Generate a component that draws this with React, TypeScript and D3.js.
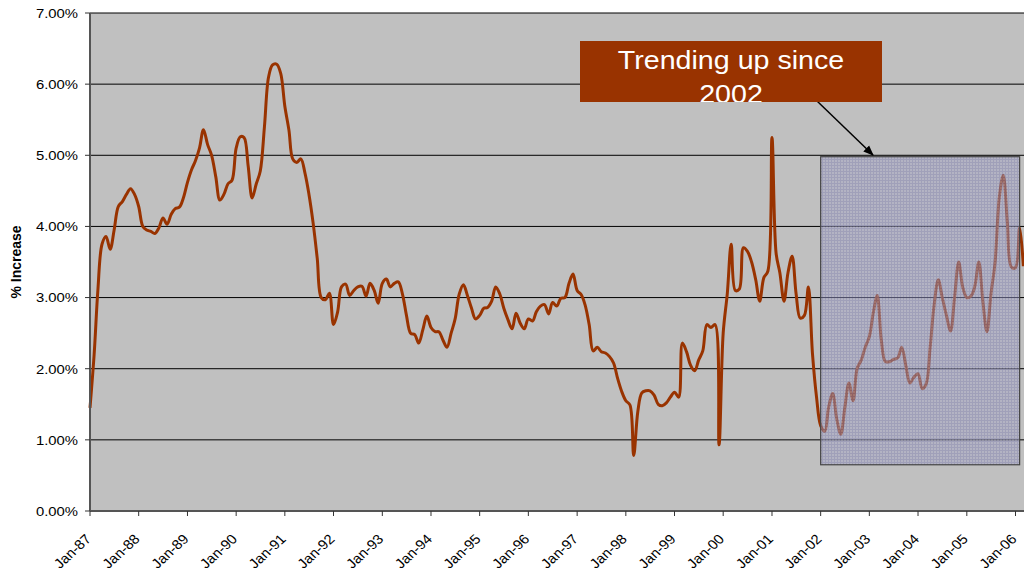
import React, { useEffect, useRef } from "react";
import * as d3 from "d3";

// monthly % increase, Jan-87 .. Mar-06
const v1987 = [1.45, 2.2, 3.1, 3.75, 3.86, 3.68, 3.95, 4.28, 4.35, 4.45, 4.53, 4.45];
const v1988 = [4.28, 4.0, 3.95, 3.93, 3.9, 3.98, 4.12, 4.03, 4.17, 4.25, 4.27, 4.4];
const v1989 = [4.62, 4.8, 4.92, 5.1, 5.36, 5.15, 5.0, 4.7, 4.37, 4.45, 4.6, 4.65];
const v1990 = [5.1, 5.26, 5.25, 4.85, 4.4, 4.6, 4.78, 5.4, 6.1, 6.27, 6.28, 6.15];
const v1991 = [5.69, 5.35, 4.95, 4.9, 4.95, 4.75, 4.45, 4.05, 3.55, 3.0, 2.97, 3.06];
const v1992 = [2.62, 2.8, 3.15, 3.19, 3.03, 3.1, 3.15, 3.16, 3.02, 3.2, 3.1, 2.92];
const v1993 = [3.2, 3.26, 3.15, 3.2, 3.22, 3.05, 2.75, 2.5, 2.48, 2.36, 2.55, 2.74];
const v1994 = [2.58, 2.52, 2.52, 2.4, 2.3, 2.5, 2.7, 3.05, 3.18, 3.03, 2.85, 2.7];
const v1995 = [2.75, 2.85, 2.86, 2.95, 3.15, 3.05, 2.85, 2.69, 2.56, 2.78, 2.64, 2.56];
const v1996 = [2.7, 2.67, 2.8, 2.88, 2.9, 2.77, 2.93, 2.88, 2.99, 3.0, 3.2, 3.33];
const v1997 = [3.1, 3.04, 2.9, 2.62, 2.25, 2.3, 2.24, 2.22, 2.17, 2.08, 1.86, 1.68];
const v1998 = [1.55, 1.49, 0.78, 1.4, 1.66, 1.69, 1.69, 1.63, 1.5, 1.48, 1.52, 1.6];
const v1999 = [1.67, 1.6, 2.36, 2.24, 2.05, 1.97, 2.12, 2.25, 2.62, 2.58, 2.62, 0.93];
const v2000 = [2.5, 3.06, 3.75, 3.1, 3.12, 3.7, 3.65, 3.5, 3.25, 2.95, 3.28, 3.37];
const v2001 = [5.25, 3.62, 3.35, 2.95, 3.35, 3.58, 3.05, 2.71, 2.75, 3.15, 2.2, 1.6];
const v2002 = [1.2, 1.12, 1.45, 1.65, 1.3, 1.08, 1.45, 1.8, 1.55, 2.0, 2.12, 2.3];
const v2003 = [2.45, 2.8, 3.03, 2.4, 2.1, 2.1, 2.13, 2.15, 2.3, 2.05, 1.8, 1.88];
const v2004 = [1.93, 1.72, 1.78, 2.3, 2.9, 3.25, 3.0, 2.75, 2.53, 3.0, 3.5, 3.15];
const v2005 = [3.0, 3.02, 3.15, 3.5, 2.95, 2.52, 3.05, 3.5, 4.4, 4.72, 4.05, 3.43];
const v2006 = [3.42, 3.98, 3.44];

const allValues = [
  ...v1987, ...v1988, ...v1989, ...v1990, ...v1991, ...v1992, ...v1993,
  ...v1994, ...v1995, ...v1996, ...v1997, ...v1998, ...v1999, ...v2000,
  ...v2001, ...v2002, ...v2003, ...v2004, ...v2005, ...v2006,
];

const yTicks = [0, 1, 2, 3, 4, 5, 6, 7];
const tickYears = d3.range(1987, 2007);

// highlighted period
const boxStart = new Date(2002, 0, 1);
const boxEnd = new Date(2006, 1, 1);
const boxTop = 4.98;
const boxBottom = 0.65;

const noteText = ["Trending up since", "2002"];

const FONT = "'Liberation Sans', Arial, sans-serif";
const STRETCH = 1.1; // the original picture is a little wider than tall

const App: React.FC = () => {
  const svgRef = useRef<SVGSVGElement>(null);

  useEffect(() => {
    if (!svgRef.current) return;
    const svg = d3.select(svgRef.current);
    svg.selectAll("*").remove();

    const width = 1024;
    const left = 90;
    const top = 13;
    const bottom = 511;

    const x = d3
      .scaleTime()
      .domain([new Date(1987, 0, 1), new Date(2006, 0, 1)])
      .range([left, 1015.5]);
    const y = d3.scaleLinear().domain([0, 7]).range([bottom, top]);

    const data = allValues.map((v, i) => ({
      date: new Date(1987, i, 1),
      value: v,
    }));

    const defs = svg.append("defs");
    const pat = defs
      .append("pattern")
      .attr("id", "hatch")
      .attr("width", 3)
      .attr("height", 3)
      .attr("patternUnits", "userSpaceOnUse");
    pat.append("rect").attr("width", 3).attr("height", 3).attr("fill", "#a9a9c6");
    pat.append("path").attr("d", "M0,0.5H3M0.5,0V3").attr("stroke", "#8686b4").attr("stroke-width", 1);

    defs
      .append("clipPath")
      .attr("id", "noteClip")
      .append("rect")
      .attr("x", 580)
      .attr("y", 41)
      .attr("width", 302)
      .attr("height", 61);

    defs
      .append("marker")
      .attr("id", "arrow")
      .attr("viewBox", "0 0 10 10")
      .attr("refX", 9)
      .attr("refY", 5)
      .attr("markerWidth", 7)
      .attr("markerHeight", 7)
      .attr("orient", "auto")
      .append("path")
      .attr("d", "M0,1L10,5L0,9Z")
      .attr("fill", "#000");

    // plot area
    svg
      .append("rect")
      .attr("x", left)
      .attr("y", top)
      .attr("width", width - left)
      .attr("height", bottom - top)
      .attr("fill", "#c0c0c0");

    // gridlines
    svg
      .append("g")
      .selectAll("line")
      .data(yTicks.filter((t) => t > 0))
      .enter()
      .append("line")
      .attr("x1", left)
      .attr("x2", width)
      .attr("y1", (d) => y(d))
      .attr("y2", (d) => y(d))
      .attr("stroke", "#000")
      .attr("stroke-width", 1);

    // series line
    const line = d3
      .line<{ date: Date; value: number }>()
      .x((d) => x(d.date))
      .y((d) => y(d.value))
      .curve(d3.curveCatmullRom.alpha(0.5));

    svg
      .append("path")
      .datum(data)
      .attr("fill", "none")
      .attr("stroke", "#993300")
      .attr("stroke-width", 3)
      .attr("stroke-linejoin", "round")
      .attr("d", line);

    // highlight box
    svg
      .append("rect")
      .attr("x", x(boxStart))
      .attr("y", y(boxTop))
      .attr("width", x(boxEnd) - x(boxStart))
      .attr("height", y(boxBottom) - y(boxTop))
      .attr("fill", "url(#hatch)")
      .attr("fill-opacity", 0.55)
      .attr("stroke", "#444")
      .attr("stroke-width", 1.2);

    // axes
    svg
      .append("line")
      .attr("x1", left)
      .attr("x2", left)
      .attr("y1", top)
      .attr("y2", bottom)
      .attr("stroke", "#555")
      .attr("stroke-width", 2);
    svg
      .append("line")
      .attr("x1", left)
      .attr("x2", width)
      .attr("y1", bottom)
      .attr("y2", bottom)
      .attr("stroke", "#555")
      .attr("stroke-width", 2);

    const yAxis = svg.append("g");
    yTicks.forEach((t) => {
      yAxis
        .append("line")
        .attr("x1", left - 5)
        .attr("x2", left)
        .attr("y1", y(t))
        .attr("y2", y(t))
        .attr("stroke", "#333");
      yAxis
        .append("text")
        .attr("transform", `translate(${left - 12},${y(t)}) scale(${STRETCH},1)`)
        .attr("dy", "0.36em")
        .attr("text-anchor", "end")
        .attr("font-family", FONT)
        .attr("font-size", 13.5)
        .attr("fill", "#000")
        .text(d3.format(".2%")(t / 100));
    });

    const xAxis = svg.append("g");
    tickYears.forEach((yr) => {
      const px = x(new Date(yr, 0, 1));
      xAxis
        .append("line")
        .attr("x1", px)
        .attr("x2", px)
        .attr("y1", bottom)
        .attr("y2", bottom + 5)
        .attr("stroke", "#333");
      xAxis
        .append("text")
        .attr("transform", `translate(${px + 2},${bottom + 29}) scale(${STRETCH},1) rotate(-45)`)
        .attr("text-anchor", "end")
        .attr("font-family", FONT)
        .attr("font-size", 13.5)
        .attr("fill", "#000")
        .text(d3.timeFormat("Jan-%y")(new Date(yr, 0, 1)));
    });

    svg
      .append("text")
      .attr("transform", `translate(21,${(top + bottom) / 2}) scale(${STRETCH},1) rotate(-90)`)
      .attr("text-anchor", "middle")
      .attr("font-family", FONT)
      .attr("font-size", 14)
      .attr("font-weight", "bold")
      .text("% Increase");

    // annotation
    svg
      .append("line")
      .attr("x1", 817)
      .attr("y1", 101)
      .attr("x2", 873)
      .attr("y2", 155)
      .attr("stroke", "#000")
      .attr("stroke-width", 1.5)
      .attr("marker-end", "url(#arrow)");

    const note = svg.append("g").attr("clip-path", "url(#noteClip)");
    note
      .append("rect")
      .attr("x", 580)
      .attr("y", 41)
      .attr("width", 302)
      .attr("height", 61)
      .attr("fill", "#993300");
    noteText.forEach((t, i) => {
      note
        .append("text")
        .attr("transform", `translate(731,${69 + i * 34}) scale(1.08,1)`)
        .attr("text-anchor", "middle")
        .attr("font-family", FONT)
        .attr("font-size", 26.5)
        .attr("fill", "#fff")
        .text(t);
    });
  }, []);

  return (
    <svg
      ref={svgRef}
      width={1024}
      height={571}
      style={{ position: "absolute", left: 0, top: 0, background: "#fff" }}
    />
  );
};

export default App;
